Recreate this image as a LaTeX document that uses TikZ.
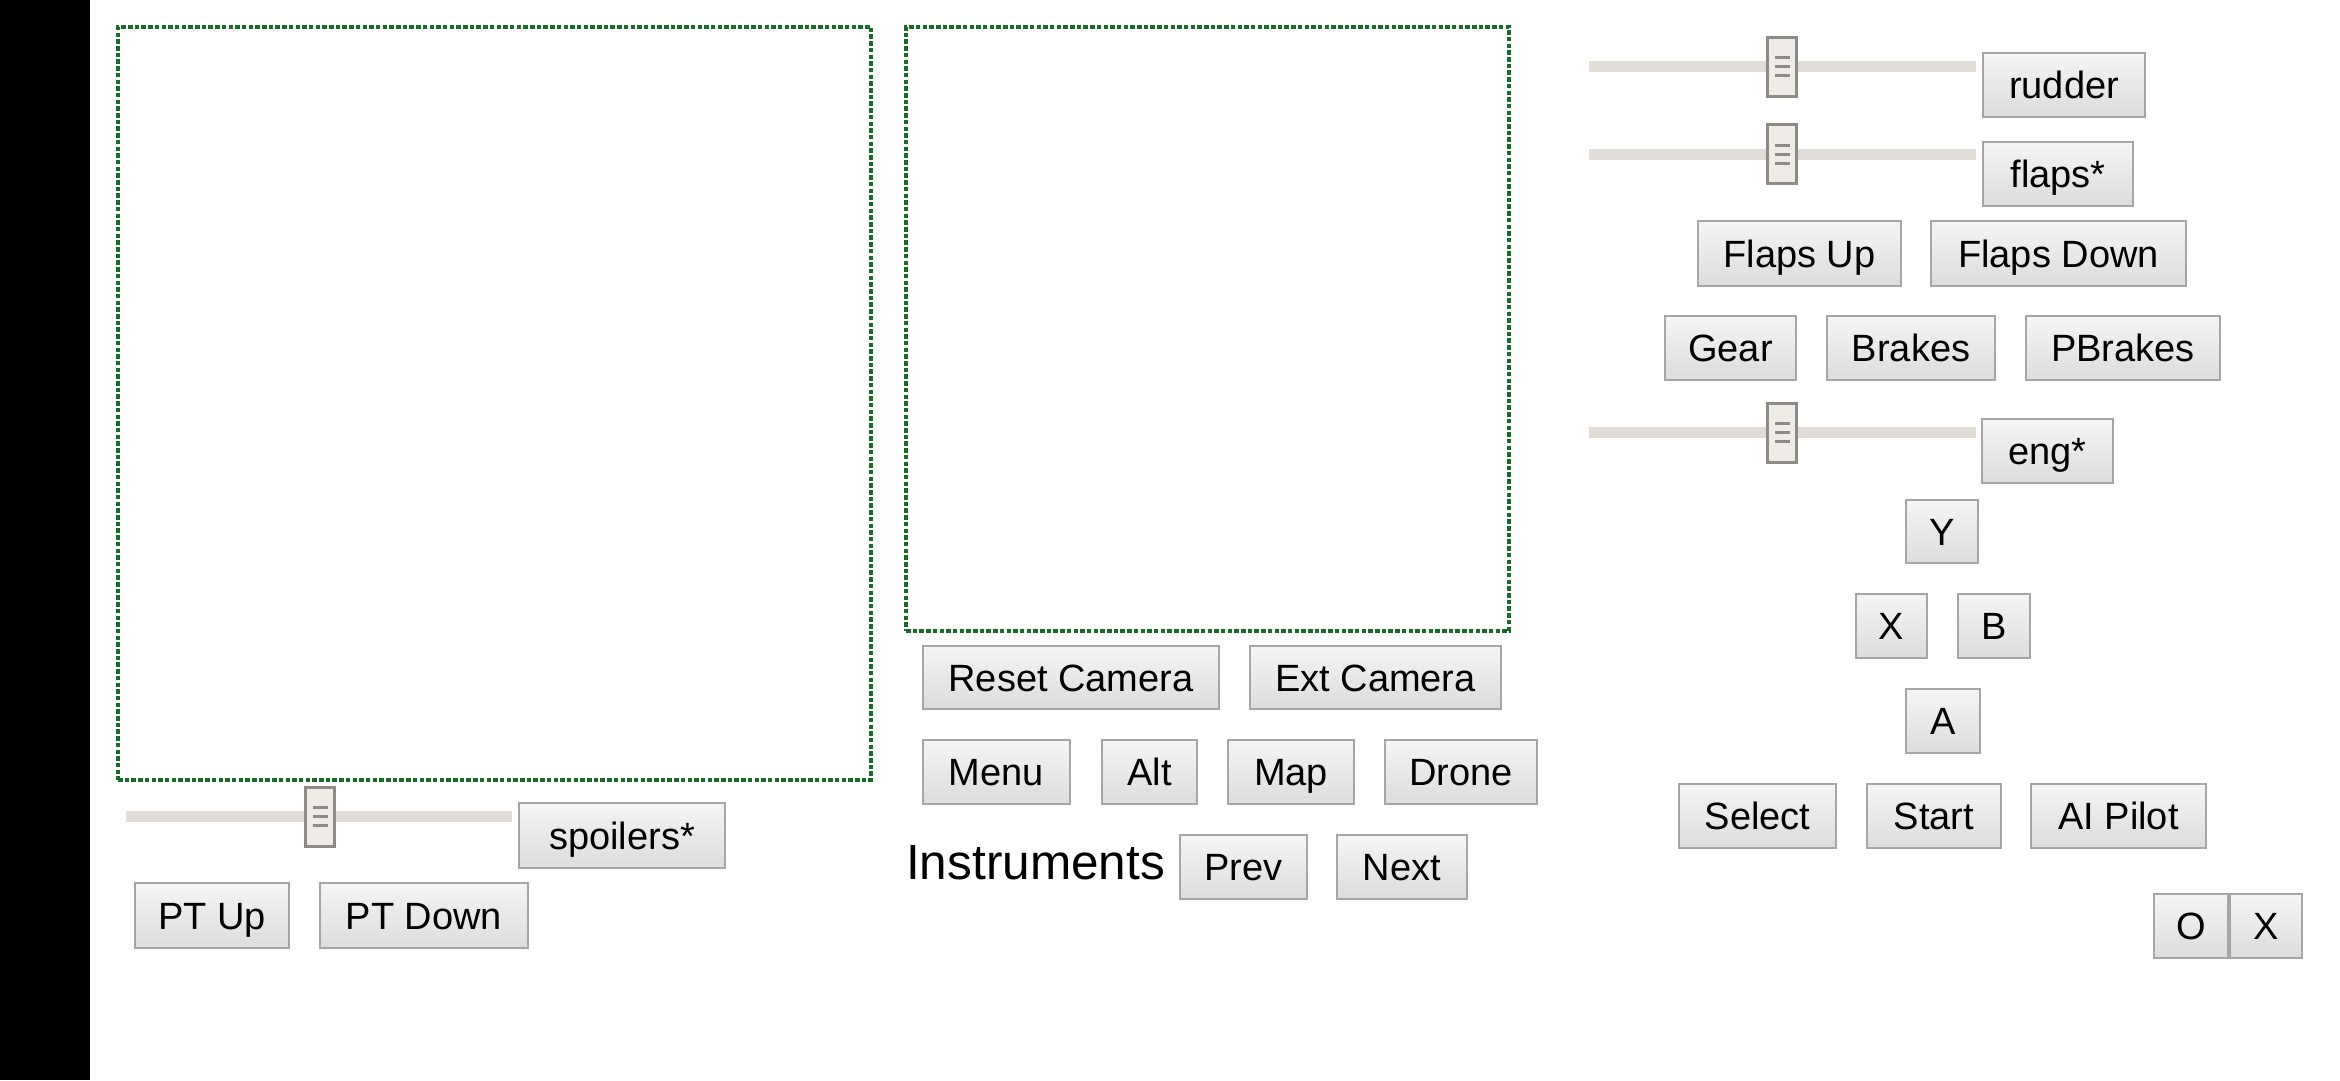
\documentclass[tikz,border=0pt]{standalone}
\usepackage{fontspec}
\setmainfont{Liberation Sans}
\definecolor{dgreen}{RGB}{24,108,40}
\definecolor{btnborder}{RGB}{166,166,166}
\definecolor{btntop}{RGB}{245,245,245}
\definecolor{btnbot}{RGB}{220,220,220}
\definecolor{trackc}{RGB}{224,221,216}
\definecolor{thumbfill}{RGB}{239,236,232}
\definecolor{thumbline}{RGB}{142,138,134}
\tikzset{
  btn/.style={draw=btnborder, line width=1.5pt, top color=btntop, bottom color=btnbot,
    inner sep=0pt, outer sep=0pt, text height=27.2pt, text depth=0pt,
    font=\fontsize{38}{44}\selectfont, text=black},
  viewbox/.style={draw=dgreen, line width=3.2pt, dash pattern=on 4.5pt off 2.2pt},
  track/.style={fill=trackc, draw=none, inner sep=0pt, minimum height=11pt},
  thumb/.style={fill=thumbfill, draw=thumbline, line width=3pt, inner sep=0pt,
    minimum width=29pt, minimum height=59pt},
  gripline/.style={draw=thumbline, line width=3pt},
}
\newcommand\mkbtn[6]{\node[btn, minimum width=#4pt, minimum height=#5pt] (#1) at (#2,#3) {#6};}
\newcommand\mkslider[5]{%
  \node[track, minimum width=#3pt] (#1t) at (#2,#4) {};
  \node[thumb] (#1h) at (#5,#4) {};
  \foreach \dy in {-9,0,9}{\draw[gripline] ([xshift=-7.5pt,yshift=\dy pt]#1h.center) -- ([xshift=7.5pt,yshift=\dy pt]#1h.center);}
}
\begin{document}
\begin{tikzpicture}[x=1pt,y=-1pt]
\useasboundingbox (0,0) rectangle (2340,1080);
\fill[white] (0,0) rectangle (2340,1080);
\fill[black] (0,0) rectangle (90,1080);
% view areas
\node[viewbox, minimum width=753pt, minimum height=753pt, inner sep=0pt] (view1) at (494.5,403.5) {};
\node[viewbox, minimum width=603pt, minimum height=604pt, inner sep=0pt] (view2) at (1207.5,329) {};
% sliders
\mkslider{sa}{1782.5}{387}{66.5}{1782}
\mkslider{sb}{1782.5}{387}{154}{1782}
\mkslider{sc}{1782.5}{387}{432.5}{1782}
\mkslider{sd}{319}{386}{816.5}{320}
% right column
\mkbtn{rudder}{2064}{85}{162}{64}{rudder}
\mkbtn{flaps}{2058}{174}{150}{64}{flaps*}
\mkbtn{flapsup}{1799.5}{253.5}{203}{65}{Flaps Up}
\mkbtn{flapsdown}{2058.5}{253.5}{255}{65}{Flaps Down}
\mkbtn{gear}{1730.5}{348}{131}{64}{Gear}
\mkbtn{brakes}{1911}{348}{168}{64}{Brakes}
\mkbtn{pbrakes}{2123}{348}{194}{64}{PBrakes}
\mkbtn{eng}{2047.5}{451}{131}{64}{eng*}
\mkbtn{ybtn}{1942}{531.5}{72}{63}{Y}
\mkbtn{xbtn}{1891.5}{626}{71}{64}{X}
\mkbtn{bbtn}{1994}{626}{72}{64}{B}
\mkbtn{abtn}{1943}{721}{74}{64}{A}
\mkbtn{select}{1757.5}{816}{157}{64}{Select}
\mkbtn{start}{1934}{816}{134}{64}{Start}
\mkbtn{aipilot}{2118.5}{816}{175}{64}{AI Pilot}
\mkbtn{obtn}{2191}{926}{74}{64}{O}
\mkbtn{xclose}{2266}{926}{72}{64}{X}
% middle column
\mkbtn{reset}{1071}{677.5}{296}{63}{Reset Camera}
\mkbtn{ext}{1375.5}{677.5}{251}{63}{Ext Camera}
\mkbtn{menu}{996.5}{772}{147}{64}{Menu}
\mkbtn{alt}{1149.5}{772}{95}{64}{Alt}
\mkbtn{map}{1291}{772}{126}{64}{Map}
\mkbtn{drone}{1461}{772}{152}{64}{Drone}
\node[anchor=base west, inner sep=0pt, font=\fontsize{49.5}{58}\selectfont] (instr) at (906,879) {Instruments};
\mkbtn{prev}{1243.5}{867}{127}{64}{Prev}
\mkbtn{next}{1402}{867}{130}{64}{Next}
% left column
\mkbtn{spoilers}{622}{835.5}{206}{65}{spoilers*}
\mkbtn{ptup}{212}{915.5}{154}{65}{PT Up}
\mkbtn{ptdown}{424}{915.5}{208}{65}{PT Down}
\end{tikzpicture}
\end{document}
